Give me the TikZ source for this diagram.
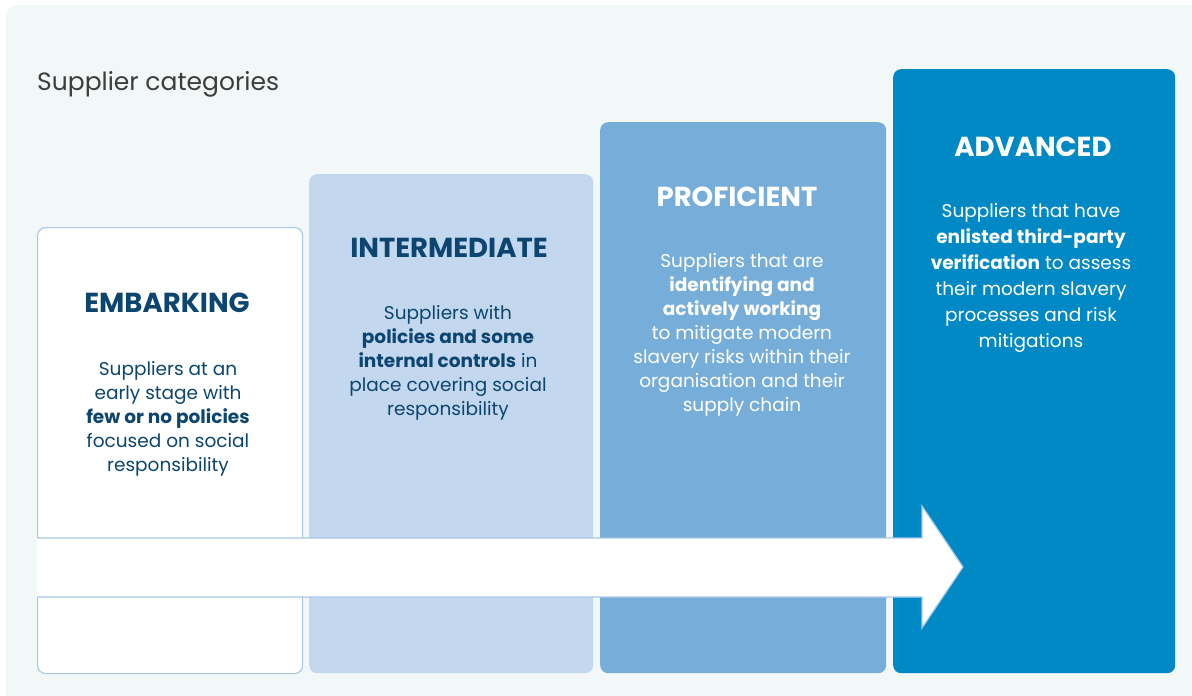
\documentclass[tikz,border=0pt]{standalone}
\usepackage{fontspec}
\setmainfont{Poppins}
\definecolor{panel}{HTML}{F2F7F7}
\definecolor{edge}{HTML}{A8C8E8}
\definecolor{fillB}{HTML}{C3D8EF}
\definecolor{fillC}{HTML}{77AED9}
\definecolor{fillD}{HTML}{0089C5}
\definecolor{navy}{HTML}{0B4570}
\definecolor{titlegray}{HTML}{3D3D3D}
\begin{document}
\begin{tikzpicture}[x=1pt,y=-1pt,
  stage/.style={rectangle,rounded corners=8pt,inner sep=0pt,anchor=north west},
  heading/.style={anchor=base,inner sep=0pt,font=\fontsize{27.5}{30}\selectfont\bfseries},
  body/.style={anchor=base,inner sep=0pt,align=center,font=\fontsize{18.5}{24}\selectfont},
]
\useasboundingbox (0,0) rectangle (1192,696);
\fill[white] (0,0) rectangle (1192,696);
\fill[panel,rounded corners=12pt] (6,5) rectangle (1210,720);
\node[stage,draw=edge,line width=1.2pt,fill=white,minimum width=265pt,minimum height=446pt] (emb) at (37,227) {};
\node[stage,fill=fillB,minimum width=284pt,minimum height=499pt] (int) at (309,174) {};
\node[stage,fill=fillC,minimum width=286pt,minimum height=551pt] (pro) at (600,122) {};
\node[stage,fill=fillD,minimum width=282pt,minimum height=604pt] (adv) at (893,69) {};
% arrow
\fill[white] (37,538) -- (922,538) -- (922,506) -- (963,567) -- (922,628) -- (922,597) -- (37,597) -- cycle;
\draw[edge,line width=1.2pt,line join=miter] (37,538) -- (922,538) -- (922,506) -- (963,567) -- (922,628) -- (922,597) -- (37,597);
% title
\node[anchor=base west,inner sep=0pt,text=titlegray,font=\fontsize{25}{28}\selectfont] (title) at (37,90) {Supplier categories};
% headings
\node[heading,text=navy] (hemb) at (167,312) {EMBARKING};
\node[heading,text=navy] (hint) at (449,257) {INTERMEDIATE};
\node[heading,text=white] (hpro) at (737,206) {PROFICIENT};
\node[heading,text=white] (hadv) at (1033,156) {ADVANCED};
% bodies (base = baseline of last line)
\node[body,text=navy] (bemb) at (168,471) {Suppliers at an\\early stage with\\\textbf{few or no policies}\\focused on social\\responsibility};
\node[body,text=navy] (bint) at (448,415) {Suppliers with\\\textbf{policies and some}\\\textbf{internal controls} in\\place covering social\\responsibility};
\node[body,text=white] (bpro) at (742,411) {Suppliers that are\\\textbf{identifying and}\\\textbf{actively working}\\to mitigate modern\\slavery risks within their\\organisation and their\\supply chain};
\node[body,text=white,font=\fontsize{18.5}{26}\selectfont] (badv) at (1031,347) {Suppliers that have\\\textbf{enlisted third-party}\\\textbf{verification} to assess\\their modern slavery\\processes and risk\\mitigations};
\end{tikzpicture}
\end{document}
